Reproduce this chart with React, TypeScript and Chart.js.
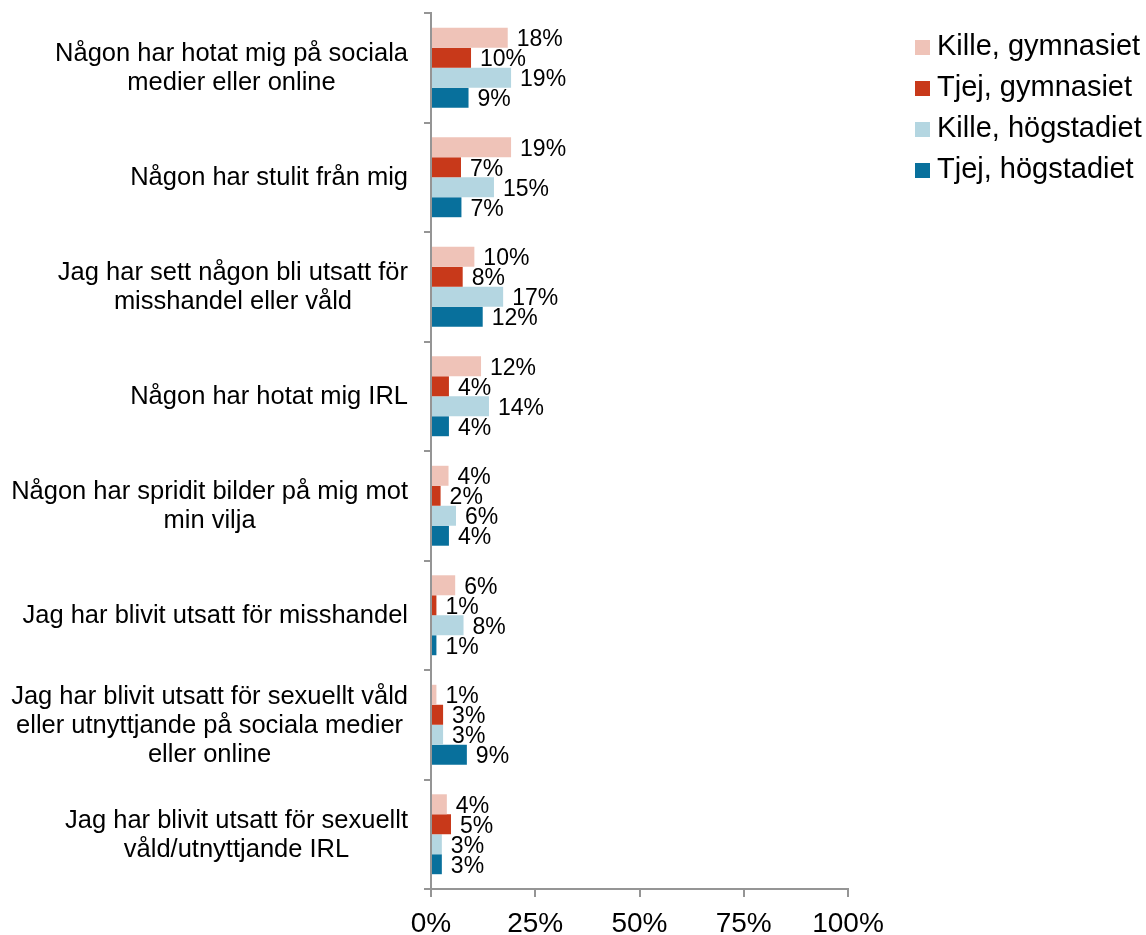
import React, { useEffect, useRef } from 'react';
import { Chart, registerables } from 'chart.js';

Chart.register(...registerables);

const categories: string[][] = [
  ['Någon har hotat mig på sociala', 'medier eller online'],
  ['Någon har stulit från mig'],
  ['Jag har sett någon bli utsatt för', 'misshandel eller våld'],
  ['Någon har hotat mig IRL'],
  ['Någon har spridit bilder på mig mot', 'min vilja'],
  ['Jag har blivit utsatt för misshandel'],
  ['Jag har blivit utsatt för sexuellt våld', 'eller utnyttjande på sociala medier', 'eller online'],
  ['Jag har blivit utsatt för sexuellt', 'våld/utnyttjande IRL'],
];

const seriesNames = ['Kille, gymnasiet', 'Tjej, gymnasiet', 'Kille, högstadiet', 'Tjej, högstadiet'];

const killeGymnasiet = [18.4, 19.2, 10.4, 12.0, 4.2, 5.8, 1.3, 3.8];
const tjejGymnasiet = [9.6, 7.2, 7.6, 4.3, 2.3, 1.3, 2.9, 4.8];
const killeHogstadiet = [19.2, 15.1, 17.3, 13.9, 6.0, 7.8, 2.9, 2.6];
const tjejHogstadiet = [9.0, 7.3, 12.4, 4.3, 4.3, 1.3, 8.6, 2.6];

const seriesColors = ['#EFC3B8', '#C8391A', '#B4D6E1', '#08709C'];
const xTickValues = [0, 25, 50, 75, 100];

const FONT = '"Liberation Sans", Arial, Helvetica, sans-serif';
const AXIS_COLOR = '#959595';

const textPlugin = {
  id: 'textPlugin',
  afterDatasetsDraw(chart: any) {
    const ctx = chart.ctx;
    const area = chart.chartArea;
    ctx.save();
    // data labels
    ctx.font = `23px ${FONT}`;
    ctx.fillStyle = '#000';
    ctx.textAlign = 'left';
    ctx.textBaseline = 'middle';
    chart.data.datasets.forEach((ds: any, di: number) => {
      const meta = chart.getDatasetMeta(di);
      meta.data.forEach((bar: any, i: number) => {
        const v = ds.data[i] as number;
        ctx.fillText(Math.round(v) + '%', bar.x + 9, bar.y + 2);
      });
    });
    // category labels: block right aligned, lines centred in block
    const yScale = chart.scales.y;
    ctx.font = `25.5px ${FONT}`;
    ctx.textAlign = 'center';
    const rightEdge = area.left - 23;
    const lh = 29;
    categories.forEach((lines, i) => {
      const cy = yScale.getPixelForValue(i);
      const w = Math.max(...lines.map((l) => ctx.measureText(l).width));
      const cx = rightEdge - w / 2;
      lines.forEach((line, j) => {
        ctx.fillText(line, cx, cy + (j - (lines.length - 1) / 2) * lh + 1);
      });
    });
    // legend
    ctx.font = `29px ${FONT}`;
    ctx.textAlign = 'left';
    const lx = area.right + 67;
    chart.data.datasets.forEach((ds: any, di: number) => {
      const ly = area.top + 34 + di * 41;
      ctx.fillStyle = ds.backgroundColor;
      ctx.fillRect(lx, ly - 7, 15, 15);
      ctx.fillStyle = '#000';
      ctx.fillText(ds.label, lx + 22, ly);
    });
    ctx.restore();
  },
};

export default function App() {
  const canvasRef = useRef<HTMLCanvasElement | null>(null);

  useEffect(() => {
    if (!canvasRef.current) return;
    const seriesData = [killeGymnasiet, tjejGymnasiet, killeHogstadiet, tjejHogstadiet];
    const chart = new Chart(canvasRef.current, {
      type: 'bar',
      data: {
        labels: categories.map((c) => c.join(' ')),
        datasets: seriesData.map((d, i) => ({
          label: seriesNames[i],
          data: d,
          backgroundColor: seriesColors[i],
          borderWidth: 0,
          categoryPercentage: 0.73,
          barPercentage: 1,
        })),
      },
      options: {
        indexAxis: 'y',
        animation: false,
        responsive: false,
        maintainAspectRatio: false,
        layout: { padding: { left: 416, right: 298, top: 5, bottom: 0 } },
        plugins: {
          legend: { display: false },
          tooltip: { enabled: false },
        },
        scales: {
          x: {
            type: 'linear',
            min: 0,
            max: 100,
            afterBuildTicks: (scale: any) => {
              scale.ticks = xTickValues.map((v) => ({ value: v }));
            },
            afterFit: (scale: any) => {
              scale.height = 46;
            },
            ticks: {
              callback: (v: any) => v + '%',
              font: { family: FONT, size: 28 },
              color: '#000',
              padding: 10,
              maxRotation: 0,
              autoSkip: false,
            },
            grid: {
              drawOnChartArea: false,
              drawTicks: true,
              tickLength: 8,
              color: AXIS_COLOR,
              lineWidth: 2,
            },
            border: { display: true, color: AXIS_COLOR, width: 2 },
          },
          y: {
            type: 'category',
            afterFit: (scale: any) => {
              scale.width = 7;
            },
            ticks: { display: false },
            grid: {
              offset: true,
              drawOnChartArea: false,
              drawTicks: true,
              tickLength: 7,
              color: AXIS_COLOR,
              lineWidth: 2,
            },
            border: { display: true, color: AXIS_COLOR, width: 2 },
          },
        },
      },
      plugins: [textPlugin],
    } as any);
    return () => chart.destroy();
  }, []);

  return (
    <div style={{ position: 'absolute', left: 8, top: 8, width: 1138, height: 927 }}>
      <canvas ref={canvasRef} width={1138} height={927} style={{ display: 'block', width: 1138, height: 927 }} />
    </div>
  );
}
